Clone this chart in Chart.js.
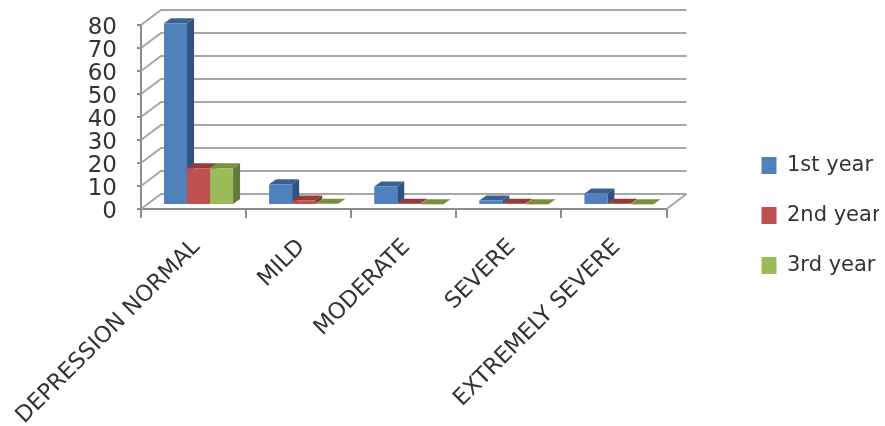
<!DOCTYPE html>
<html>
<head>
<meta charset="utf-8">
<style>
  html, body { margin: 0; padding: 0; background: #fff; }
  canvas { display: block; }
</style>
</head>
<body>
<canvas id="chart" width="885" height="426"></canvas>
<script src="https://cdn.jsdelivr.net/npm/chart.js@4/dist/chart.umd.js"></script>
<script>
const categories = ['DEPRESSION NORMAL', 'MILD', 'MODERATE', 'SEVERE', 'EXTREMELY SEVERE'];
const firstYear = [79, 9, 8, 2, 5];
const secondYear = [16, 2, 0.5, 0.5, 0.5];
const thirdYear = [16, 0.5, 0.3, 0.3, 0.3];

const fronts = ['#4f81bd', '#c0504d', '#9bbb59'];
const tops = ['#3a6291', '#923c3a', '#76903f'];
const sides = ['#2f5280', '#7f3230', '#64793a'];
const gridColor = '#a6a6a6';
const axisColor = '#8c8c8c';
const textColor = '#333';

// depth of the box behind the front plane, and of each bar
const wallDx = 20, wallDy = -15;
const barShiftX = 5, barShiftY = -4;
const barDx = 7, barDy = -5;

function face(ctx, pts, color) {
  ctx.fillStyle = color;
  ctx.beginPath();
  pts.forEach((p, i) => i ? ctx.lineTo(p[0], p[1]) : ctx.moveTo(p[0], p[1]));
  ctx.closePath();
  ctx.fill();
}

const box3d = {
  id: 'box3d',
  beforeDatasetsDraw(chart) {
    const { ctx, scales: { x, y } } = chart;
    const left = x.left, right = x.right;

    // back wall, left wall and floor lines
    ctx.save();
    ctx.lineWidth = 2;
    ctx.strokeStyle = gridColor;
    y.ticks.forEach(t => {
      const py = y.getPixelForValue(t.value);
      ctx.beginPath();
      ctx.moveTo(left, py);
      ctx.lineTo(left + wallDx, py + wallDy);
      ctx.lineTo(right + wallDx, py + wallDy);
      ctx.stroke();
    });
    const floor = y.getPixelForValue(0);
    ctx.beginPath();
    ctx.moveTo(right, floor);
    ctx.lineTo(right + wallDx, floor + wallDy);
    ctx.stroke();

    // side and top faces, left to right, so the library's fronts land on top
    ctx.translate(barShiftX, barShiftY);
    const metas = chart.getSortedVisibleDatasetMetas();
    categories.forEach((c, i) => {
      metas.forEach((meta, d) => {
        const bar = meta.data[i];
        const l = bar.x - bar.width / 2, r = bar.x + bar.width / 2;
        const t = bar.y, b = bar.base;
        face(ctx, [[r, t], [r + barDx, t + barDy], [r + barDx, b + barDy], [r, b]], sides[d]);
        face(ctx, [[l, t], [l + barDx, t + barDy], [r + barDx, t + barDy], [r, t]], tops[d]);
      });
    });
    ctx.restore();

    // fronts sit slightly behind the axis plane
    ctx.save();
    ctx.translate(barShiftX, barShiftY);
  },
  afterDatasetsDraw(chart) {
    chart.ctx.restore();
  }
};

new Chart(document.getElementById('chart'), {
  type: 'bar',
  data: {
    labels: categories,
    datasets: [
      { label: '1st year', data: firstYear, backgroundColor: fronts[0] },
      { label: '2nd year', data: secondYear, backgroundColor: fronts[1] },
      { label: '3rd year', data: thirdYear, backgroundColor: fronts[2] }
    ]
  },
  plugins: [box3d],
  options: {
    responsive: false,
    animation: false,
    layout: { padding: { top: 5, right: 6 } },
    datasets: { bar: { categoryPercentage: 0.657, barPercentage: 1 } },
    plugins: {
      tooltip: { enabled: false },
      legend: {
        position: 'right',
        labels: {
          boxWidth: 15,
          boxHeight: 17,
          padding: 29,
          color: textColor,
          font: { family: 'DejaVu Sans', size: 21 }
        }
      }
    },
    scales: {
      x: {
        afterFit(s) { s.height = 217; s.paddingLeft = 0; s.paddingRight = 0; },
        border: { color: axisColor, width: 2 },
        grid: { offset: true, drawOnChartArea: false, tickLength: 9, tickColor: axisColor, lineWidth: 2 },
        ticks: {
          autoSkip: false,
          minRotation: 45,
          maxRotation: 45,
          padding: 16,
          labelOffset: 3,
          color: textColor,
          font: { family: 'DejaVu Sans', size: 22.5 }
        }
      },
      y: {
        min: 0,
        max: 80,
        afterFit(s) { s.width = 141; s.paddingTop = 0; s.paddingBottom = 0; },
        border: { color: axisColor, width: 2 },
        grid: { drawOnChartArea: false, tickLength: 4, tickColor: axisColor, lineWidth: 2 },
        ticks: {
          autoSkip: false,
          stepSize: 10,
          padding: 20,
          labelOffset: 3,
          color: textColor,
          font: { family: 'DejaVu Sans', size: 23 }
        }
      },
      // empty axis that keeps the gap between the plot and the legend
      gap: {
        type: 'linear',
        position: 'right',
        afterFit(s) { s.width = 66; s.paddingTop = 0; s.paddingBottom = 0; },
        border: { display: false },
        grid: { display: false },
        ticks: { display: false }
      },
      // empty axis above the plot, the legend stays centred on the full height
      headroom: {
        type: 'linear',
        axis: 'x',
        position: 'top',
        afterFit(s) { s.height = 20; s.paddingLeft = 0; s.paddingRight = 0; },
        border: { display: false },
        grid: { display: false },
        ticks: { display: false }
      }
    }
  }
});
</script>
</body>
</html>
